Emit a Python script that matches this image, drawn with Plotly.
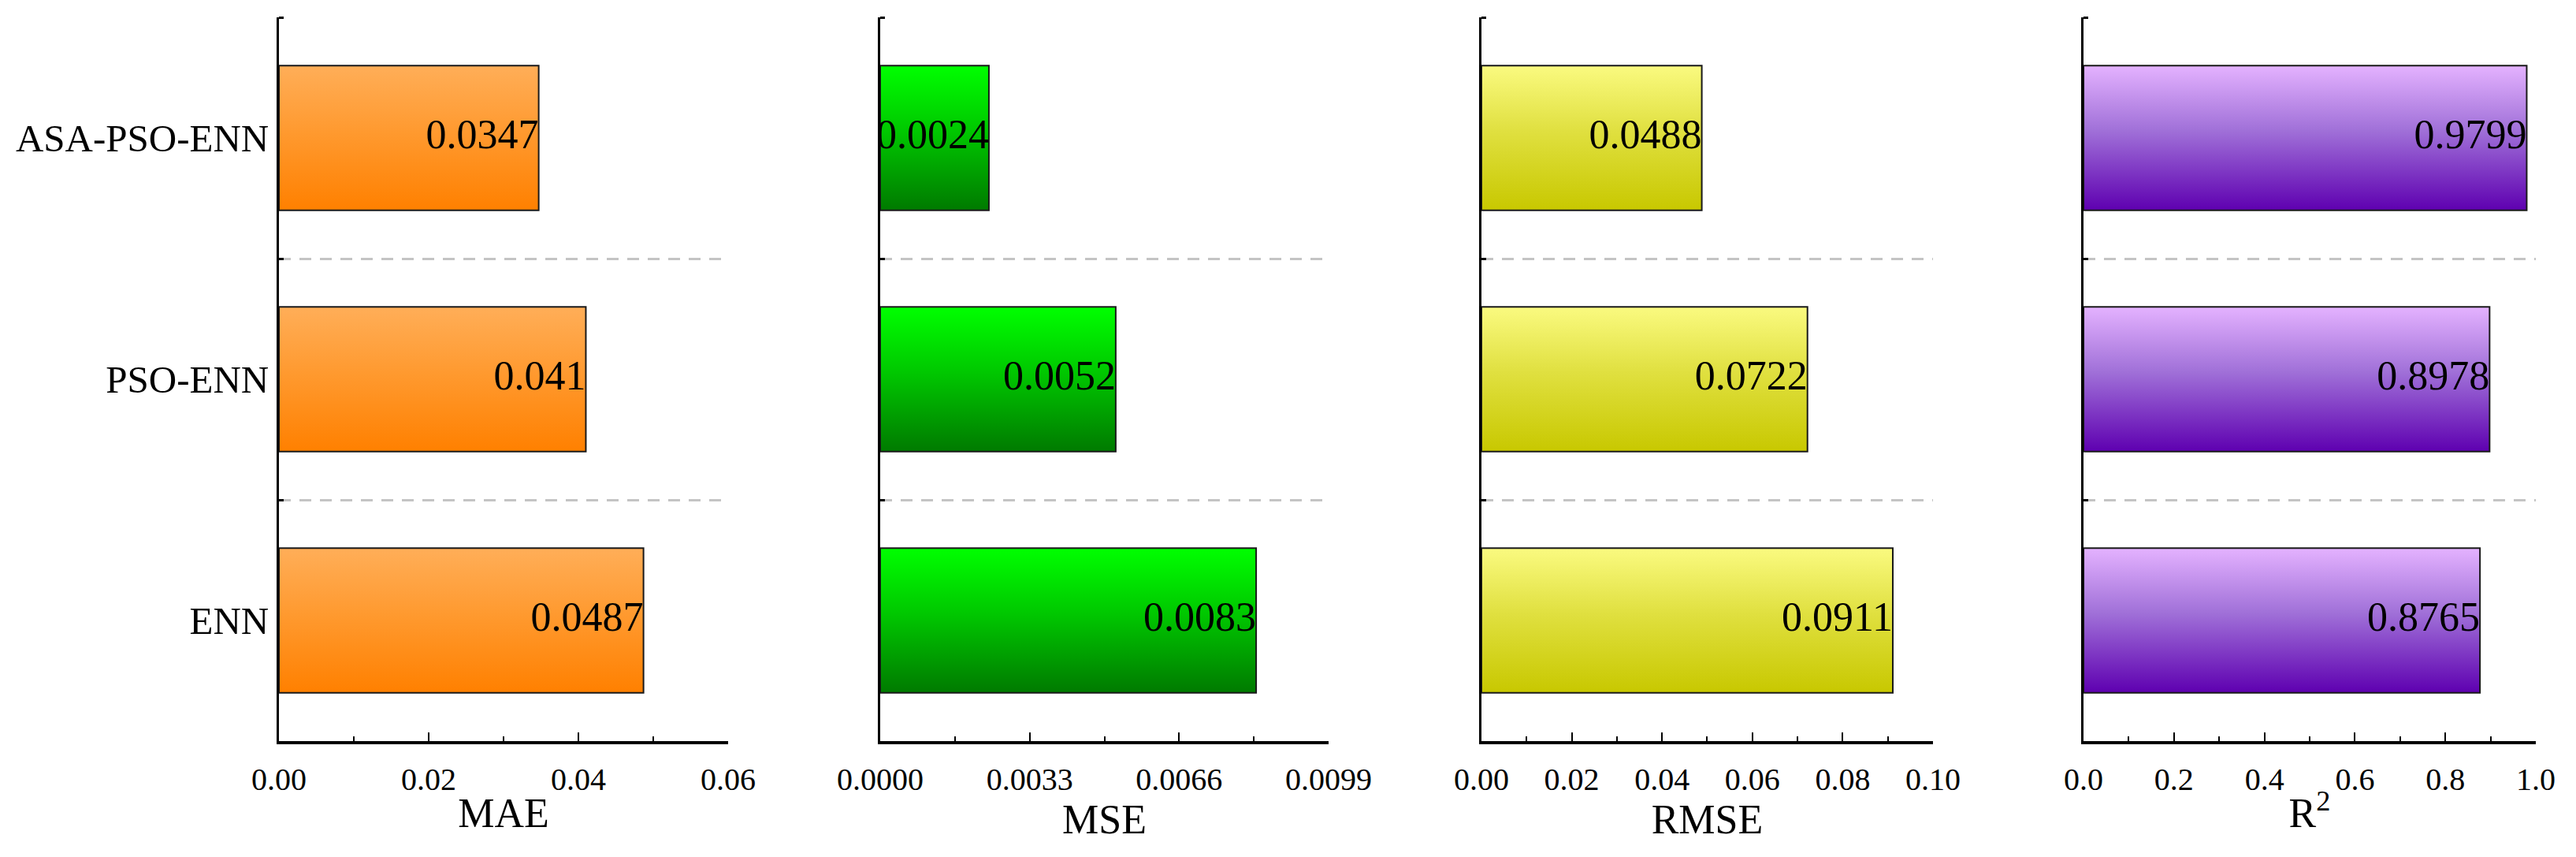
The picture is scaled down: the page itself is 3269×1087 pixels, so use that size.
import plotly.graph_objects as go

# ---- data ----
categories = ["ENN", "PSO-ENN", "ASA-PSO-ENN"]
mae = [0.0487, 0.041, 0.0347]
mse = [0.0083, 0.0052, 0.0024]
rmse = [0.0911, 0.0722, 0.0488]
r2 = [0.8765, 0.8978, 0.9799]
mae_labels = ["0.0487", "0.041", "0.0347"]
mse_labels = ["0.0083", "0.0052", "0.0024"]
rmse_labels = ["0.0911", "0.0722", "0.0488"]
r2_labels = ["0.8765", "0.8978", "0.9799"]

metric_titles = ["MAE", "MSE", "RMSE", "R<sup>2</sup>"]
x_max = [0.06, 0.0099, 0.10, 1.0]
x_dtick = [0.02, 0.0033, 0.02, 0.2]
x_format = [".2f", ".4f", ".2f", ".1f"]

# ---- styles ----
FONT = "Liberation Serif"
gradients = [
    ("#FF8000", "#FFAE58"),   # orange (bottom, top)
    ("#007A00", "#00FF00"),   # green
    ("#C8C800", "#FAFA80"),   # yellow
    ("#5E00B0", "#E4B2FF"),   # purple
]
mid_colors = ["#FF9A30", "#00C800", "#E0E040", "#A070D8"]
BAR_HALF = 0.3

domains = [(0.0, 0.199), (0.2664, 0.4651), (0.5328, 0.7329), (0.7996, 1.0)]

series = [mae, mse, rmse, r2]
labels = [mae_labels, mse_labels, rmse_labels, r2_labels]

fig = go.Figure()

for p, (vals, labs) in enumerate(zip(series, labels)):
    xa = "x" if p == 0 else f"x{p+1}"
    ya = "y" if p == 0 else f"y{p+1}"
    dark, light = gradients[p]
    for i, v in enumerate(vals):
        fig.add_trace(go.Scatter(
            x=[0, v, v, 0, 0],
            y=[i - BAR_HALF, i - BAR_HALF, i + BAR_HALF, i + BAR_HALF, i - BAR_HALF],
            mode="lines", fill="toself",
            fillgradient=dict(type="vertical",
                              colorscale=[[0, dark], [0.55, mid_colors[p]], [1, light]]),
            line=dict(color="#1a1a1a", width=2),
            xaxis=xa, yaxis=ya, showlegend=False, hoverinfo="skip",
        ))
    fig.add_trace(go.Scatter(
        x=vals, y=list(range(len(categories))), mode="text", text=labs,
        textposition="middle left",
        textfont=dict(family=FONT, size=52, color="black"),
        xaxis=xa, yaxis=ya, showlegend=False, hoverinfo="skip",
    ))

layout = dict(
    width=3253, height=1071,
    margin=dict(l=346, r=43, t=14, b=139),
    paper_bgcolor="white", plot_bgcolor="white",
    font=dict(family=FONT, color="black"),
    showlegend=False,
)

for p in range(4):
    xkey = "xaxis" if p == 0 else f"xaxis{p+1}"
    ykey = "yaxis" if p == 0 else f"yaxis{p+1}"
    ya = "y" if p == 0 else f"y{p+1}"
    xa = "x" if p == 0 else f"x{p+1}"
    layout[xkey] = dict(
        domain=list(domains[p]), anchor=ya, automargin=False,
        range=[0, x_max[p]], tickmode="linear", tick0=0, dtick=x_dtick[p],
        tickformat=x_format[p],
        showline=True, linecolor="black", linewidth=4,
        ticks="inside", ticklen=11, tickwidth=2, tickcolor="black",
        minor=dict(dtick=x_dtick[p] / 2, tick0=0, ticks="inside", ticklen=6,
                   tickwidth=2, tickcolor="black", showgrid=False),
        showgrid=False, zeroline=False,
        tickfont=dict(family=FONT, size=40, color="black"),
        ticklabelstandoff=10,
        title=dict(text=metric_titles[p], font=dict(family=FONT, size=52, color="black"),
                   standoff=4),
    )
    layout[ykey] = dict(
        domain=[0, 1], anchor=xa, automargin=False,
        range=[-0.5, 2.5],
        tickmode="array", tickvals=list(range(len(categories))), ticktext=categories,
        showticklabels=(p == 0), ticks="",
        showline=True, linecolor="black", linewidth=3,
        showgrid=False, zeroline=False,
        minor=dict(tickvals=[0.5, 1.5, 2.5], ticks="inside", ticklen=6, tickwidth=3,
                   tickcolor="black", showgrid=True, gridcolor="#C4C4C4",
                   griddash="15px,11px", gridwidth=3),
        tickfont=dict(family=FONT, size=49, color="black"),
        ticklabelstandoff=0,
    )

fig.update_layout(**layout)
fig.write_html("out.html")
